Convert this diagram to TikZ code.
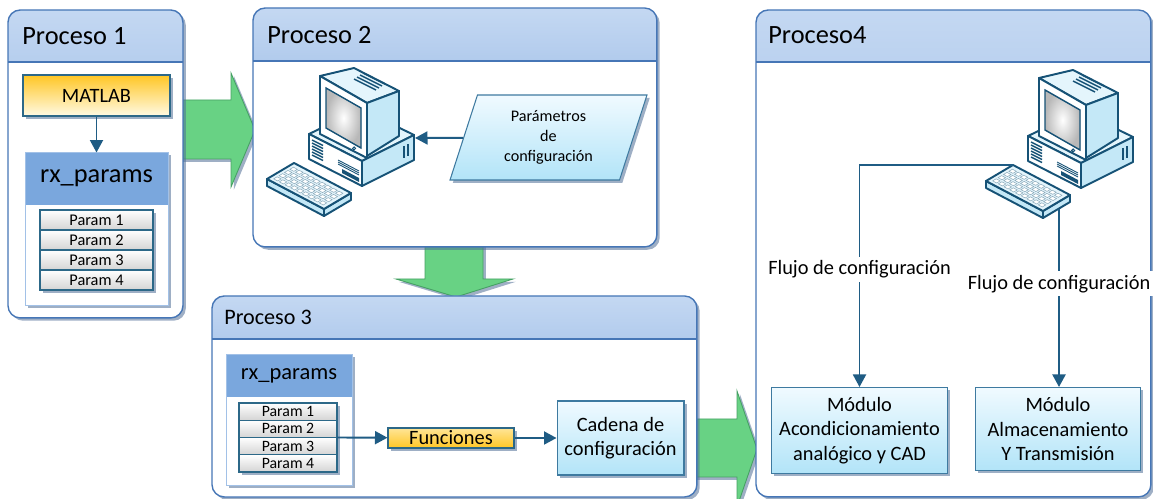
\documentclass[tikz,border=0pt]{standalone}
\usepackage{fontspec}
\setmainfont{Carlito}
\usetikzlibrary{shapes.geometric, arrows.meta, positioning, shadows}

\definecolor{panelline}{RGB}{70,118,182}
\definecolor{headtop}{RGB}{196,216,242}
\definecolor{headbot}{RGB}{112,157,218}
\definecolor{rxhead}{RGB}{122,167,221}
\definecolor{shade}{RGB}{80,110,150}
\definecolor{flowline}{RGB}{31,92,132}
\definecolor{greenfill}{RGB}{104,210,132}
\definecolor{greenline}{RGB}{70,160,100}
\definecolor{cyantop}{RGB}{240,250,255}
\definecolor{cyanbot}{RGB}{178,228,248}
\definecolor{cyanline}{RGB}{62,122,160}
\definecolor{rowgray}{RGB}{212,212,212}
\definecolor{rowline}{RGB}{44,104,136}
\definecolor{goldtop}{RGB}{255,198,36}
\definecolor{goldbot}{RGB}{255,250,228}
\definecolor{pcedge}{RGB}{22,82,118}
\definecolor{pclight}{RGB}{228,245,252}
\definecolor{pcside}{RGB}{196,232,247}

\tikzset{
  shadowed/.style={drop shadow={shadow xshift=1.6pt, shadow yshift=-1.6pt, fill=shade, opacity=0.55}},
  panel/.style={draw=panelline, line width=0.8pt, fill=white, rounded corners=7pt,
    anchor=north west, inner sep=0pt, outer sep=0pt, shadowed,
    path picture={
      \fill[sharp corners, top color=headtop, bottom color=headbot]
        (path picture bounding box.north west) rectangle
        ([yshift=-#1]path picture bounding box.north east);
      \draw[sharp corners, panelline, line width=0.8pt]
        ([yshift=-#1]path picture bounding box.north west) --
        ([yshift=-#1]path picture bounding box.north east);}},
  panel/.default=1.04cm,
  headtitle/.style={anchor=west, inner sep=0pt, font=\fontsize{15}{18}\selectfont},
  rxbox/.style={draw=rxhead!70, fill=white, anchor=north, inner sep=0pt, outer sep=0pt, shadowed,
    path picture={\fill[rxhead] (path picture bounding box.north west) rectangle
        ([yshift=-#1]path picture bounding box.north east);}},
  rxbox/.default=1.04cm,
  param/.style={draw=rowline, line width=0.6pt, top color=white, bottom color=rowgray,
    minimum width=2.26cm, minimum height=0.4cm, inner sep=0pt, outer sep=0pt, shadowed,
    font=\fontsize{9.3}{11}\selectfont},
  smallparam/.style={param, minimum width=1.96cm, minimum height=0.345cm, font=\fontsize{9}{10}\selectfont},
  gold/.style={draw=rowline, line width=0.6pt, top color=goldtop, bottom color=goldbot, inner sep=0pt, shadowed},
  cyanbox/.style={draw=cyanline, line width=0.6pt, top color=cyantop, bottom color=cyanbot, align=center, inner sep=0pt, shadowed},
  arrow/.style={-{Triangle[length=2.5mm, width=2.6mm]}, draw=flowline, line width=1.1pt},
  bigarrow/.style={fill=greenfill, draw=greenline, line width=0.5pt, shadowed},
  flowtag/.style={fill=white, inner sep=2pt},
  pcbody/.style={draw=pcedge, line width=1.1pt, line join=round},
  computer/.pic={
    % system unit
    \filldraw[pcbody, fill=pclight] (47,68) -- (99,43) -- (152,69) -- (100,95) -- cycle;
    \filldraw[pcbody, fill=white] (47,68) -- (100,95) -- (100,120) -- (47,93) -- cycle;
    \filldraw[pcbody, fill=pcside] (100,95) -- (152,69) -- (152,94) -- (100,120) -- cycle;
    \foreach \k in {0,...,5}
      \draw[pcedge, line width=0.8pt] (50,{74+3*\k}) -- (61,{79.5+3*\k});
    \foreach \k in {0,...,2}
      \draw[pcedge, line width=0.5pt] (76,{94+2*\k}) -- (97,{105+2*\k});
    \fill[pcedge] (80,103) -- (97,112) -- (97,116) -- (80,107) -- cycle;
    \draw[pcedge, line width=1pt] (142,80) -- (142,92) (146,78) -- (146,90);
    % monitor
    \filldraw[pcbody, fill=pclight] (58,10) -- (92,2) -- (137,25) -- (105,37) -- cycle;
    \foreach \k in {0,...,3}
      \draw[pcedge, line width=0.8pt] ({92+3*\k},{13-2*\k}) -- ({114+3*\k},{24-2*\k});
    \filldraw[pcbody, fill=pcside] (105,37) -- (137,25) -- (137,70) -- (105,90) -- cycle;
    \filldraw[pcbody, fill=white] (58,10) -- (105,37) -- (105,92) -- (58,68) -- cycle;
    \filldraw[pcedge, line width=0.8pt, inner color=white, outer color=black!28]
      (64,22) -- (99,42) -- (99,82) -- (64,62) -- cycle;
    \draw[pcedge, line width=0.6pt] (92,82.5) circle (1.5);
    % keyboard
    \filldraw[pcbody, fill=pcside] (5,113) -- (62,143) -- (62,150) -- (5,120) -- cycle;
    \filldraw[pcbody, fill=pcside] (62,143) -- (89,127) -- (89,134) -- (62,150) -- cycle;
    \begin{scope}[shift={(5,113)}, x={(1.14cm,-0.6cm)}, y={(0.54cm,0.32cm)}]
      \filldraw[pcbody, fill=pclight] (0,0) -- (1,0) -- (1,1) -- (0,1) -- cycle;
      \foreach \i in {0,...,8}
        \foreach \j in {0,...,3}
          \filldraw[draw=pcedge!50, fill=white, line width=0.3pt]
            ({0.06+0.1*\i},{0.12+0.2*\j}) -- ++(0.07,0) -- ++(0,0.13) -- ++(-0.07,0) -- cycle;
    \end{scope}
    \coordinate (-east) at (153,72);
    \coordinate (-kbd) at (32,97);
    \coordinate (-cable) at (78,141);
  }
}

\begin{document}
\begin{tikzpicture}[x=0.02cm, y=-0.02cm, font=\fontsize{11.6}{14}\selectfont]
  \useasboundingbox (0,0) rectangle (1153,499);

  % Block arrows between the stages
  \filldraw[bigarrow] (176,100) -- (231,100) -- (231,73) -- (255,130) -- (231,187) -- (231,159) -- (176,159) -- cycle;
  \filldraw[bigarrow] (425,240) -- (425,279) -- (396,279) -- (456,297) -- (513,279) -- (483,279) -- (483,240) -- cycle;
  \filldraw[bigarrow] (690,419) -- (737,419) -- (737,391) -- (757,449) -- (737,507) -- (737,477) -- (690,477) -- cycle;

  % Stages
  \node[panel, minimum width=3.5cm, minimum height=6.16cm] (p1) at (8,10) {};
  \node[panel=1.06cm, minimum width=8.08cm, minimum height=4.78cm] (p2) at (253,8) {};
  \node[panel=0.86cm, minimum width=9.7cm, minimum height=4.02cm] (p3) at (212,296) {};
  \node[panel, minimum width=7.9cm, minimum height=9.74cm] (p4) at (756,10) {};
  \node[headtitle] (t1) at ([xshift=0.28cm, yshift=-0.52cm]p1.north west) {Proceso 1};
  \node[headtitle] (t2) at ([xshift=0.28cm, yshift=-0.54cm]p2.north west) {Proceso 2};
  \node[headtitle, font=\fontsize{12.6}{15}\selectfont] (t3) at ([xshift=0.24cm, yshift=-0.42cm]p3.north west) {Proceso 3};
  \node[headtitle] (t4) at ([xshift=0.24cm, yshift=-0.5cm]p4.north west) {Proceso4};

  % Proceso 1
  \node[gold, minimum width=2.94cm, minimum height=0.82cm] (matlab) at (96.5,95.5) {MATLAB};
  \node[rxbox, minimum width=2.86cm, minimum height=3.06cm, below=0.72cm of matlab] (rxa) {};
  \node[inner sep=0pt, font=\fontsize{15}{18}\selectfont] (rxat) at ([yshift=-0.52cm]rxa.north) {rx\_params};
  \node[param, anchor=north] (rowa1) at (96.5,210) {Param 1};
  \foreach \i [count=\j] in {2,3,4}
    \node[param, below=0pt of rowa\j] (rowa\i) {Param \i};
  \draw[arrow] (matlab) -- (rxa);

  % Proceso 2
  \pic (pc2) at (262,66) {computer};
  \node[cyanbox, trapezium, trapezium left angle=63, trapezium right angle=117,
    trapezium stretches body, minimum width=3.94cm, minimum height=1.7cm,
    font=\fontsize{9.2}{11.4}\selectfont] (conf) at (548.5,137.5) {Parámetros\\de\\configuración};
  \draw[arrow] (conf) -- (pc2-east);

  % Proceso 3
  \node[rxbox=0.86cm, minimum width=2.52cm, minimum height=2.62cm] (rxb) at (289,354) {};
  \node[inner sep=0pt, font=\fontsize{12.8}{15}\selectfont] (rxbt) at ([yshift=-0.43cm]rxb.north) {rx\_params};
  \node[smallparam, anchor=north] (rowb1) at (288,403) {Param 1};
  \foreach \i [count=\j] in {2,3,4}
    \node[smallparam, below=0pt of rowb\j] (rowb\i) {Param \i};
  \node[gold, top color=goldbot!60!goldtop, bottom color=goldtop, minimum width=2.52cm, minimum height=0.4cm] (fun) at (451,438) {Funciones};
  \node[cyanbox, minimum width=2.54cm, minimum height=1.48cm, right=0.84cm of fun] (cad) {Cadena de\\configuración};
  \draw[arrow] (rowb2.south east) -- (fun);
  \draw[arrow] (fun) -- (cad);

  % Proceso 4
  \pic (pc4) at (981,68) {computer};
  \node[cyanbox, minimum width=3.52cm, minimum height=1.72cm, anchor=north west] (mod1) at (771,387) {Módulo\\Acondicionamiento\\analógico y CAD};
  \node[cyanbox, minimum width=3.3cm, minimum height=1.66cm, anchor=north west] (mod2) at (975,387) {Módulo\\Almacenamiento\\Y Transmisión};
  \draw[arrow] (pc4-kbd) -| node[flowtag, pos=0.735] (tag1) {Flujo de configuración} (mod1.north);
  \draw[arrow] (pc4-cable) -- node[flowtag, pos=0.42] (tag2) {Flujo de configuración} (pc4-cable |- mod2.north);
\end{tikzpicture}
\end{document}
